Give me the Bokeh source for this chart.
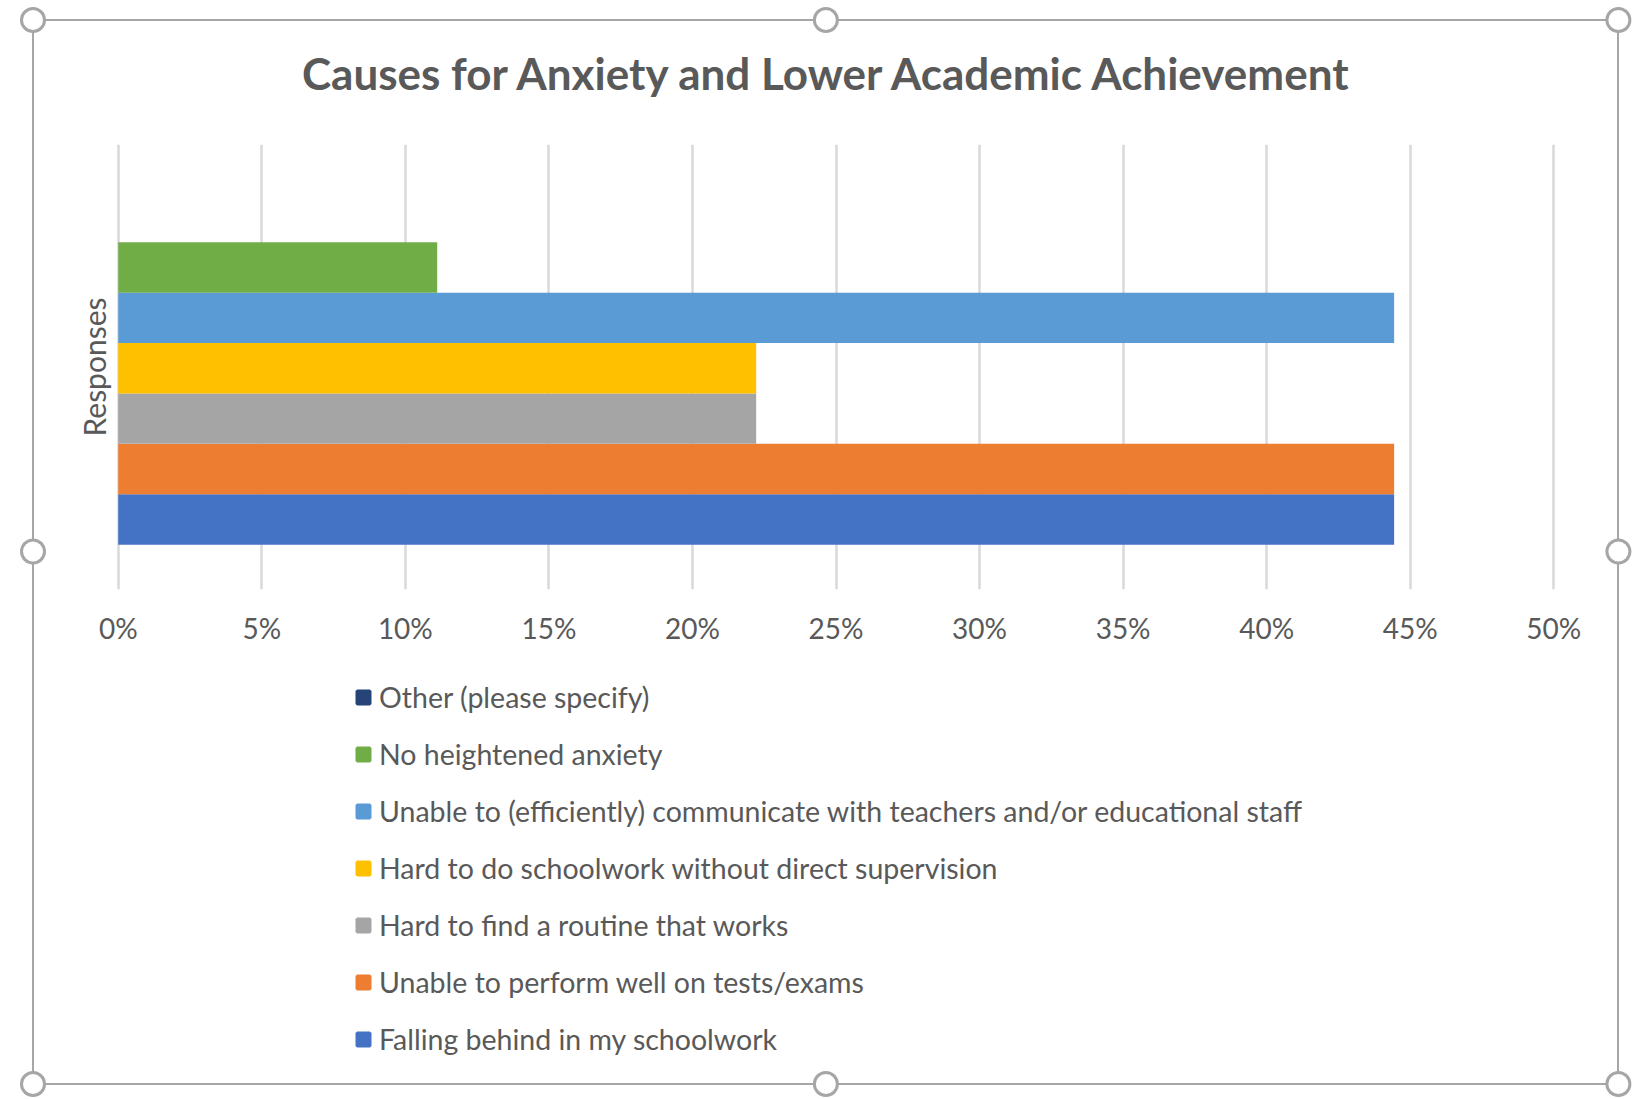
from bokeh.plotting import figure
from bokeh.layouts import column
from bokeh.models import (Range1d, FixedTicker, Legend, LegendItem, InlineStyleSheet, Title,
                          NumeralTickFormatter, ColumnDataSource)
from bokeh.embed import file_html
from bokeh.resources import INLINE

# ---- data ----
chart_title = "Causes for Anxiety and Lower Academic Achievement"
category_label = "Responses"
series_names = [
    "Falling behind in my schoolwork",
    "Unable to perform well on tests/exams",
    "Hard to find a routine that works",
    "Hard to do schoolwork without direct supervision",
    "Unable to (efficiently) communicate with teachers and/or educational staff",
    "No heightened anxiety",
    "Other (please specify)",
]
series_values = [0.4444, 0.4444, 0.2222, 0.2222, 0.4444, 0.1111, 0.0]
series_colors = ["#4472C4", "#ED7D31", "#A5A5A5", "#FFC000", "#5B9BD5", "#70AD47", "#264478"]
x_ticks = [0.0, 0.05, 0.10, 0.15, 0.20, 0.25, 0.30, 0.35, 0.40, 0.45, 0.50]

FONT = "Lato"
GREY = "#595959"

W = 1583
H1, H2 = 639, 423
BL, BR = 78, 58

src = ColumnDataSource(dict(y=list(range(len(series_names))), v=series_values,
                            c=series_colors, name=series_names))

# ---------- chart ----------
p = figure(width=W, height=H1, x_range=Range1d(-0.002, 0.502), y_range=Range1d(-1.39, 7.44),
           output_backend="svg", toolbar_location=None,
           min_border_left=BL, min_border_right=BR, min_border_top=122, min_border_bottom=71)
p.background_fill_color = "white"
p.border_fill_color = "white"
p.outline_line_color = None

r = p.hbar(y="y", left=0, right="v", height=1.0, fill_color="c", line_color=None, source=src)

p.title.text = chart_title
p.title.align = "left"
p.title.offset = 189.5
p.title.text_font = FONT
p.title.text_font_style = "bold"
p.title.text_font_size = "44px"
p.title.text_color = GREY
p.title.standoff = 46
# small spacer between the title and the plot area
p.add_layout(Title(text=" ", text_font_size="2px", standoff=19), "above")

xa = p.xaxis[0]
xa.ticker = FixedTicker(ticks=x_ticks)
xa.formatter = NumeralTickFormatter(format="0%")
xa.axis_line_color = None
xa.major_tick_line_color = None
xa.minor_tick_line_color = None
xa.major_label_text_font = FONT
xa.major_label_text_font_size = "28px"
xa.major_label_text_color = GREY
xa.major_label_standoff = 15

ya = p.yaxis[0]
ya.ticker = FixedTicker(ticks=[])
ya.axis_label = category_label
ya.axis_label_text_font = FONT
ya.axis_label_text_font_style = "normal"
ya.axis_label_text_font_size = "30px"
ya.axis_label_text_color = GREY
ya.axis_label_standoff = 1
ya.axis_line_color = None
ya.major_tick_line_color = None
ya.minor_tick_line_color = None

p.ygrid.grid_line_color = None
p.xgrid.ticker = FixedTicker(ticks=x_ticks)
p.xgrid.grid_line_color = "#d9d9d9"
p.xgrid.grid_line_width = 2.5

# ---------- legend area ----------
pl = figure(width=W, height=H2, x_range=Range1d(10, 11), y_range=Range1d(10, 11),
            output_backend="svg", toolbar_location=None,
            x_axis_location=None, y_axis_location=None,
            min_border_left=BL, min_border_right=BR, min_border_top=0, min_border_bottom=0)
pl.grid.visible = False
pl.outline_line_color = None
pl.background_fill_color = "white"
pl.border_fill_color = "white"
rl = pl.scatter(x="v", y="y", marker="square", size=16, fill_color="c", line_color="c",
                line_width=3.2, source=src)

items = [LegendItem(label=series_names[i], renderers=[rl], index=i)
         for i in reversed(range(len(series_names)))]
legend = Legend(items=items, location=(235, 24), orientation="vertical")
legend.glyph_width = 32
legend.glyph_height = 40
legend.label_height = 40
legend.spacing = 17
legend.label_standoff = 0
legend.padding = 0
legend.margin = 0
legend.border_line_color = None
legend.background_fill_alpha = 0
legend.label_text_font = FONT
legend.label_text_font_size = "28.5px"
legend.label_text_color = GREY
pl.add_layout(legend, "center")

# selection frame + handles (decoration of the chart area)
hx = [0.0, 792.9, 1585.4]
hy = [0.0, 531.5, 1064.0]
whites, greys = [], []
for i, dx in enumerate(hx):
    for j, dy in enumerate(hy):
        if (i, j) in ((0, 0), (1, 1)):
            continue
        whites.append(f"{dx}px {dy}px 0 -3px #ffffff")
        greys.append(f"{dx}px {dy}px 0 0 #a6a6a6")
css = (":host::after { content: ''; position: absolute; left: -14.4px; top: -14px; "
       "width: 26px; height: 26px; box-sizing: border-box; border-radius: 50%; "
       "background: #ffffff; border: 3px solid #a6a6a6; z-index: 100; pointer-events: none; "
       "box-shadow: " + ", ".join(whites + greys) + "; }")

lay = column(p, pl, margin=(21, 0, 0, 34),
             styles={"outline": "2px solid #a6a6a6"},
             stylesheets=[InlineStyleSheet(css=css)])

open("out.html", "w").write(file_html(lay, INLINE))
